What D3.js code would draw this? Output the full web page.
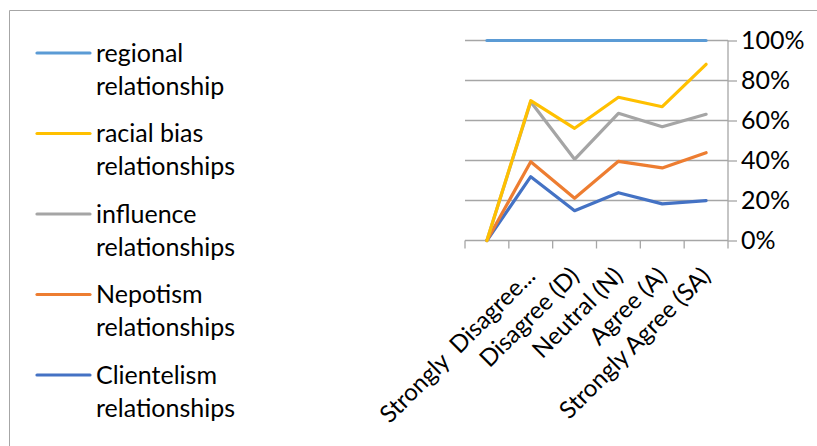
<!DOCTYPE html>
<html><head><meta charset="utf-8">
<script src="https://cdn.jsdelivr.net/npm/d3@7/dist/d3.min.js"></script>
<style>body{margin:0;background:#fff}svg{display:block}text{font-family:Lato,"Liberation Sans",sans-serif;fill:#000;white-space:pre}</style>
</head><body><svg id="c" width="817" height="446"></svg>
<script>
const categories = ["", "Strongly  Disagree...", "Disagree (D)", "Neutral (N)", "Agree (A)", "Strongly Agree (SA)"];
const regional   = [1.00, 1.00, 1.00, 1.00, 1.00, 1.00];
const racialBias = [0, 0.699, 0.561, 0.716, 0.669, 0.881];
const influence  = [0, 0.694, 0.406, 0.636, 0.569, 0.631];
const nepotism   = [0, 0.394, 0.211, 0.396, 0.363, 0.439];
const clientelism= [0, 0.319, 0.149, 0.239, 0.183, 0.199];
const yTicks = [0, 0.2, 0.4, 0.6, 0.8, 1.0];
const seriesNames = ["regional relationship", "racial bias relationships", "influence relationships", "Nepotism relationships", "Clientelism relationships"];
const legendLines = [["regional","relationship"],["racial bias","relationships"],["influence","relationships"],["Nepotism","relationships"],["Clientelism","relationships"]];
const seriesValues = [regional, racialBias, influence, nepotism, clientelism];
const colors = ["#5B9BD5", "#FFC000", "#A5A5A5", "#ED7D31", "#4472C4"];

const svg = d3.select("#c");
svg.append("path").attr("d","M9.5,446V10.5H817").attr("fill","none").attr("stroke","#A6A6A6").attr("stroke-width",1);

const x = d3.scaleBand().domain(d3.range(categories.length)).range([465, 728]);
const y = d3.scaleLinear().domain([0, 1]).range([240.5, 40.5]);
const cx = i => x(i) + x.bandwidth() / 2;

svg.append("g").selectAll("line").data(yTicks.slice(1)).join("line")
  .attr("x1", 465).attr("x2", 728).attr("y1", d => y(d)).attr("y2", d => y(d))
  .attr("stroke", "#A6A6A6").attr("stroke-width", 1.3);

const yAxis = d3.axisRight(y).tickValues(yTicks).tickFormat(d3.format(".0%")).tickSize(9).tickPadding(6);
const ya = svg.append("g").attr("transform", "translate(728,0)").call(yAxis);
ya.select(".domain").attr("stroke", "#A6A6A6").attr("stroke-width",1.3).attr("d","M0,40.5V240.5");
ya.selectAll(".tick line").attr("stroke", "#A6A6A6").attr("stroke-width",1.3);
ya.selectAll(".tick text").attr("font-size", 25).attr("font-family","Lato").attr("fill","#000").attr("x", 13);

const xAxis = d3.axisBottom(x).tickValues([]).tickSize(0);
const xa = svg.append("g").attr("transform", "translate(0,240.5)").call(xAxis);
xa.select(".domain").attr("stroke", "#A6A6A6").attr("stroke-width",1.3).attr("d","M465,0H728");
xa.selectAll(".edge").data(d3.range(categories.length + 1)).join("line")
  .attr("x1", i => 465 + i * x.step()).attr("x2", i => 465 + i * x.step())
  .attr("y1", 0).attr("y2", 8).attr("stroke", "#A6A6A6").attr("stroke-width",1.3);

svg.append("g").selectAll("text").data(categories).join("text")
  .attr("transform", (d, i) => `translate(${cx(i)},271.5) rotate(-45)`)
  .attr("text-anchor", "end").attr("dy", "0.35em").attr("font-size", 24)
  .text(d => d);

const line = d3.line().x((d, i) => cx(i)).y(d => y(d));
const order = [4, 3, 2, 1, 0];
svg.append("g").selectAll("path").data(order).join("path")
  .attr("d", k => line(seriesValues[k])).attr("fill", "none")
  .attr("stroke", k => colors[k]).attr("stroke-width", 3.2)
  .attr("stroke-linejoin", "round").attr("stroke-linecap", "round");

const lg = svg.append("g");
const ent = lg.selectAll("g").data(seriesNames).join("g")
  .attr("transform", (d, i) => `translate(0,${53 + i * 80.5})`);
ent.append("line").attr("x1", 37).attr("x2", 90).attr("y1", 0).attr("y2", 0)
  .attr("stroke", (d, i) => colors[i]).attr("stroke-width", 3.2).attr("stroke-linecap","round");
ent.append("text").attr("x", 96).attr("font-size", 25)
  .selectAll("tspan").data((d, i) => legendLines[i]).join("tspan")
  .attr("x", 96).attr("y", (d, j) => j * 33).attr("dy", "0.35em").text(d => d);
</script></body></html>
